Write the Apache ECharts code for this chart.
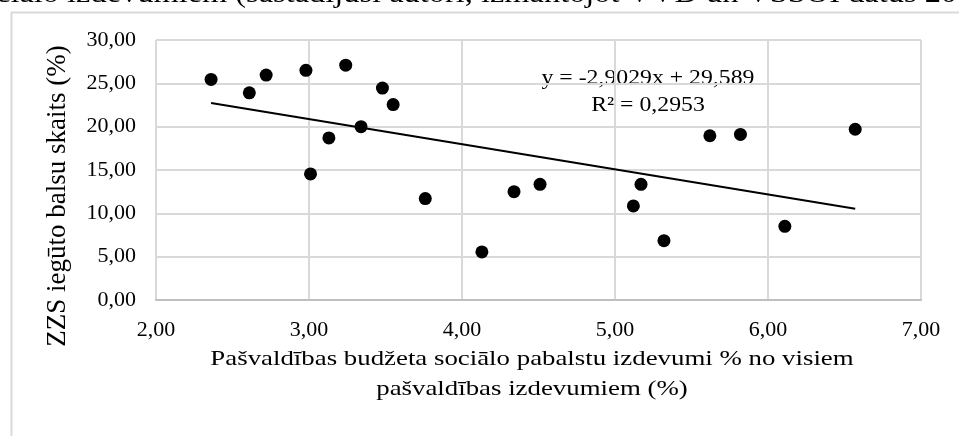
<!DOCTYPE html>
<html>
<head>
<meta charset="utf-8">
<script src="https://cdn.jsdelivr.net/npm/echarts@6/dist/echarts.min.js"></script>
<style>
html,body{margin:0;padding:0;background:#fff;}
#chart{width:959px;height:436px;}
</style>
</head>
<body>
<div id="chart"></div>
<script>
// Data
const xValues = [2.36, 2.61, 2.72, 2.98, 3.24, 3.48, 3.55, 3.34, 3.13, 3.01, 3.76, 4.13, 4.34, 4.51, 5.12, 5.17, 5.32, 5.62, 5.82, 6.11, 6.57];
const yValues = [25.45, 23.9, 25.95, 26.5, 27.1, 24.45, 22.55, 20.0, 18.7, 14.55, 11.7, 5.55, 12.5, 13.35, 10.85, 13.35, 6.85, 18.95, 19.1, 8.5, 19.7];
const trendX = [2.36, 6.57];
const trendY = [22.74, 10.52];
const xTicks = { min: 2, max: 7, step: 1 };
const yTicks = { min: 0, max: 30, step: 5 };
const xAxisTitle = 'Pašvaldības budžeta sociālo pabalstu izdevumi % no visiem\npašvaldības izdevumiem (%)';
const yAxisTitle = 'ZZS iegūto balsu skaits (%)';
const trendLabel = 'y = -2,9029x + 29,589\nR² = 0,2953';
const topText = 'ciālo izdevumiem (sastādījuši autori, izmantojot VVD un VSSOI datus 2017)';

const serif = "'Liberation Serif', 'Times New Roman', serif";
const fmt = v => v.toFixed(2).replace('.', ',');

const chart = echarts.init(document.getElementById('chart'));
chart.setOption({
  animation: false,
  backgroundColor: '#ffffff',
  grid: { left: 156, right: 38, top: 40, bottom: 136, containLabel: false },
  xAxis: {
    type: 'value', min: xTicks.min, max: xTicks.max, interval: xTicks.step,
    axisLine: { show: true, lineStyle: { color: '#bfbfbf', width: 2 } },
    axisTick: { show: false },
    splitLine: { show: true, lineStyle: { color: '#d9d9d9', width: 2 } },
    axisLabel: { formatter: fmt, color: '#000', fontFamily: serif, fontSize: 22, margin: 19 }
  },
  yAxis: {
    type: 'value', min: yTicks.min, max: yTicks.max, interval: yTicks.step,
    axisLine: { show: false },
    axisTick: { show: false },
    splitLine: { show: true, lineStyle: { color: '#d9d9d9', width: 2 } },
    axisLabel: { formatter: fmt, color: '#000', fontFamily: serif, fontSize: 22, margin: 20 }
  },
  series: [
    {
      type: 'line',
      data: trendX.map((x, i) => [x, trendY[i]]),
      showSymbol: false,
      lineStyle: { color: '#000', width: 2 },
      z: 2
    },
    {
      type: 'scatter',
      data: xValues.map((x, i) => [x, yValues[i]]),
      symbol: 'circle',
      symbolSize: 13,
      itemStyle: { color: '#000', opacity: 1 },
      z: 3
    }
  ],
  graphic: [
    {
      type: 'rect', left: 9, top: 10, silent: true,
      shape: { x: 0, y: 0, width: 1200, height: 600 },
      style: { fill: 'none', stroke: '#d9d9d9', lineWidth: 2 }
    },
    {
      type: 'text', x: -4, y: 8, scaleX: 1.2, silent: true,
      style: { text: topText, fill: '#000', font: '27px ' + serif, textAlign: 'left', textVerticalAlign: 'bottom' }
    },
    {
      type: 'text', x: 58, y: 196, rotation: Math.PI / 2, silent: true,
      style: { text: yAxisTitle, fill: '#000', font: '27px ' + serif, textAlign: 'center', textVerticalAlign: 'middle' }
    },
    {
      type: 'text', x: 532, y: 374, scaleX: 1.22, silent: true,
      style: { text: xAxisTitle, fill: '#000', font: '22px ' + serif, lineHeight: 30, textAlign: 'center', textVerticalAlign: 'middle' }
    },
    {
      type: 'text', x: 648, y: 92, scaleX: 1.08, silent: true,
      style: { text: trendLabel, fill: '#000', font: '22px ' + serif, lineHeight: 27, textAlign: 'center', textVerticalAlign: 'middle' }
    }
  ]
});
</script>
</body>
</html>
